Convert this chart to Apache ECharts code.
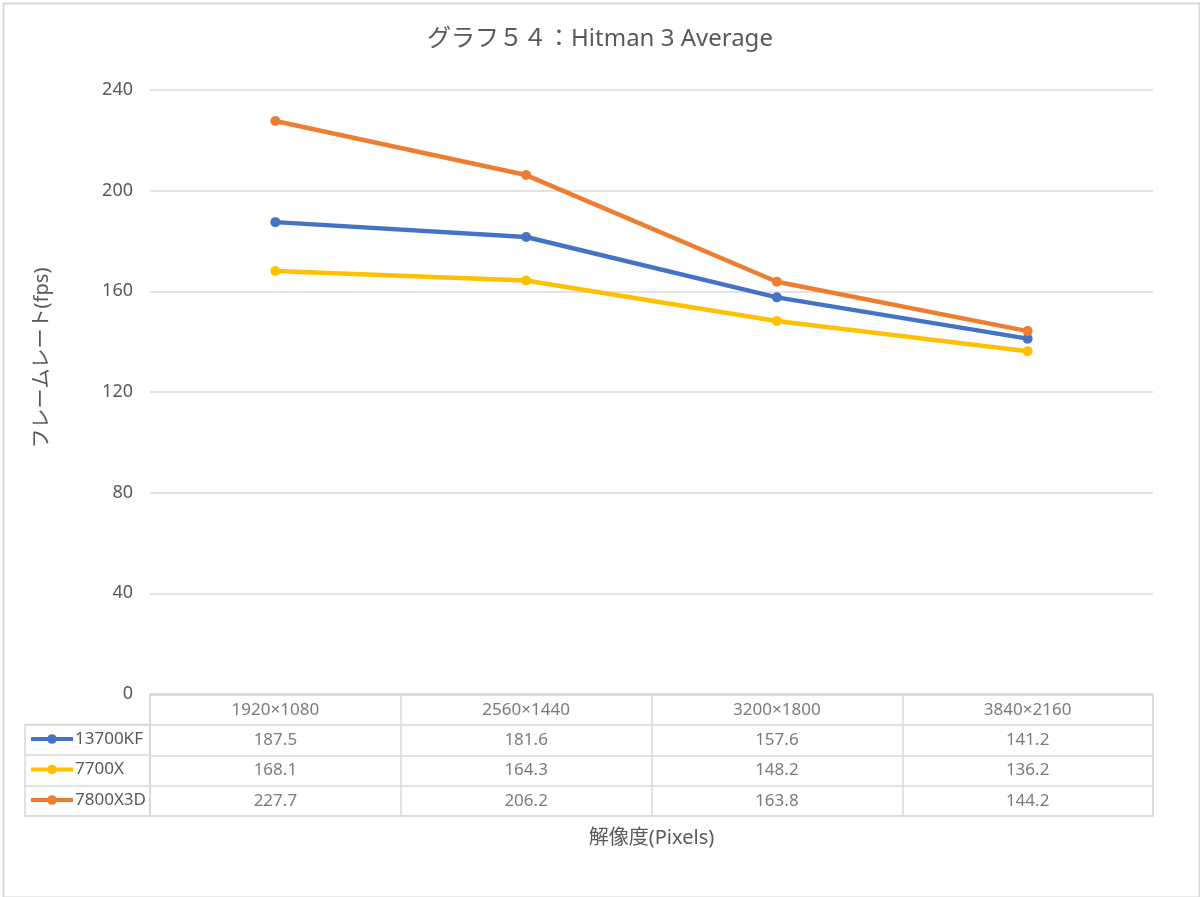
<!DOCTYPE html>
<html>
<head>
<meta charset="utf-8">
<script src="https://cdn.jsdelivr.net/npm/echarts@6/dist/echarts.min.js"></script>
<style>
html,body{margin:0;padding:0;background:#fff;}
#chart{width:1200px;height:897px;}
</style>
</head>
<body>
<div id="chart"></div>
<script>
const categories = ['1920×1080', '2560×1440', '3200×1800', '3840×2160'];
const seriesNames = ['13700KF', '7700X', '7800X3D'];
const s13700KF = [187.5, 181.6, 157.6, 141.2];
const s7700X = [168.1, 164.3, 148.2, 136.2];
const s7800X3D = [227.7, 206.2, 163.8, 144.2];
const yTickMin = 0, yTickMax = 240, yTickStep = 40;
const colors = ['#4472C4', '#FFC000', '#ED7D31'];

const allValues = [s13700KF, s7700X, s7800X3D];
const FONT = '"Noto Sans", "Noto Sans CJK JP", sans-serif';
const TXT = '#595959';
const GRIDC = '#d9d9d9';

const rowCats = ['header'].concat(seriesNames);
const cellData = [];
categories.forEach((c, ci) => {
  cellData.push({ value: [ci, 0], label: { formatter: c } });
  allValues.forEach((vals, ri) => {
    cellData.push({ value: [ci, ri + 1], label: { formatter: vals[ci].toFixed(1) } });
  });
});

const chart = echarts.init(document.getElementById('chart'), null, { renderer: 'canvas' });
const option = {
  animation: false,
  textStyle: { fontFamily: FONT },
  title: {
    text: 'グラフ５４：Hitman 3 Average',
    left: 'center', top: 22,
    textStyle: { fontFamily: FONT, fontSize: 24, fontWeight: 'normal', color: TXT }
  },
  graphic: [{
    type: 'rect', left: 1, top: 1, silent: true,
    shape: { width: 1196, height: 894 },
    style: { fill: 'none', stroke: GRIDC, lineWidth: 2 }
  }],
  legend: {
    data: seriesNames,
    orient: 'vertical',
    left: 29, top: 729, padding: 0,
    itemWidth: 42, itemHeight: 12, itemGap: 10.5,
    lineStyle: { width: 4 },
    textStyle: { fontFamily: FONT, fontSize: 17, color: TXT, lineHeight: 20, padding: [0, 0, 0, -3] },
    selectedMode: false
  },
  grid: [
    { left: 150, right: 47, top: 90, bottom: 203 },
    { left: 150, right: 47, top: 694.5, height: 121.5, show: true, borderColor: GRIDC, borderWidth: 1.5 },
    { left: 25, width: 125, top: 724.5, height: 91.5, show: true, borderColor: GRIDC, borderWidth: 1.5 }
  ],
  xAxis: [
    {
      type: 'category', gridIndex: 0, data: categories, boundaryGap: true,
      axisLine: { show: true, lineStyle: { color: GRIDC, width: 1.5 } },
      axisTick: { show: false }, axisLabel: { show: false },
      name: '解像度(Pixels)', nameLocation: 'middle', nameGap: 134,
      nameTextStyle: { fontFamily: FONT, fontSize: 20, color: TXT }
    },
    {
      type: 'category', gridIndex: 1, data: categories, boundaryGap: true,
      axisLine: { show: false }, axisTick: { show: false }, axisLabel: { show: false },
      splitLine: { show: true, interval: 0, lineStyle: { color: GRIDC, width: 1.5 } }
    },
    {
      type: 'category', gridIndex: 2, data: ['legend'], boundaryGap: true,
      axisLine: { show: false }, axisTick: { show: false }, axisLabel: { show: false }
    }
  ],
  yAxis: [
    {
      type: 'value', gridIndex: 0, min: yTickMin, max: yTickMax, interval: yTickStep,
      axisLine: { show: false }, axisTick: { show: false },
      axisLabel: { fontFamily: FONT, fontSize: 18, color: TXT, margin: 17 },
      splitLine: { show: true, lineStyle: { color: GRIDC, width: 1.5 } },
      name: 'フレームレート(fps)', nameLocation: 'middle', nameGap: 98, nameRotate: 90,
      nameTextStyle: { fontFamily: FONT, fontSize: 20, color: TXT, padding: [0, 0, 0, 68] }
    },
    {
      type: 'category', gridIndex: 1, data: rowCats, inverse: true, boundaryGap: true,
      axisLine: { show: false }, axisTick: { show: false }, axisLabel: { show: false },
      splitLine: { show: true, interval: 0, lineStyle: { color: GRIDC, width: 1.5 } }
    },
    {
      type: 'category', gridIndex: 2, data: seriesNames, inverse: true, boundaryGap: true,
      axisLine: { show: false }, axisTick: { show: false }, axisLabel: { show: false },
      splitLine: { show: true, interval: 0, lineStyle: { color: GRIDC, width: 1.5 } }
    }
  ],
  series: seriesNames.map((n, i) => ({
    name: n, type: 'line', xAxisIndex: 0, yAxisIndex: 0,
    data: allValues[i],
    color: colors[i],
    symbol: 'circle', symbolSize: 10,
    lineStyle: { width: 4.5, color: colors[i] },
    itemStyle: { color: colors[i] },
    z: 3 + i
  })).concat([{
    name: 'table', type: 'scatter', xAxisIndex: 1, yAxisIndex: 1,
    symbolSize: 0, silent: true,
    data: cellData,
    label: { show: true, position: 'inside', fontFamily: FONT, fontSize: 17, color: TXT }
  }])
};
chart.setOption(option);
</script>
</body>
</html>
